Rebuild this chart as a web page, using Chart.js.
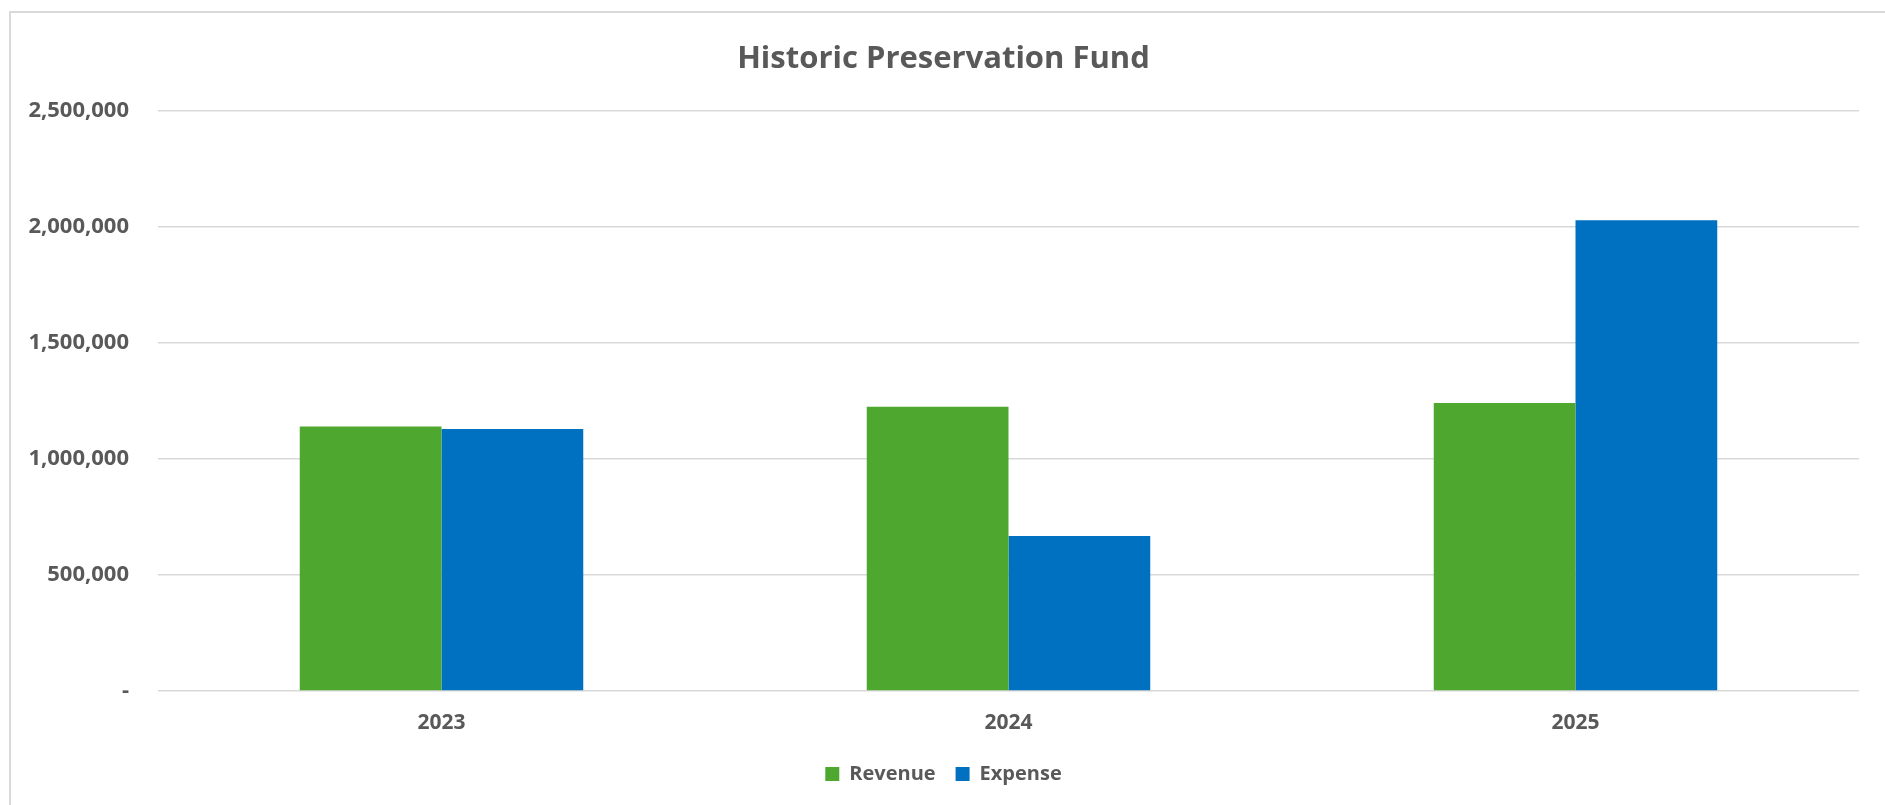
<!DOCTYPE html>
<html>
<head>
<meta charset="utf-8">
<title>Historic Preservation Fund</title>
<script src="https://cdn.jsdelivr.net/npm/chart.js@4"></script>
<style>
  html, body { margin: 0; padding: 0; background: #fff; overflow: hidden; }
  #frame {
    position: absolute; left: 9px; top: 11px;
    width: 2000px; height: 2000px;
    border-left: 2px solid #d9d9d9; border-top: 2px solid #d9d9d9;
  }
  #chart1 { position: absolute; left: 0; top: 0; }
</style>
</head>
<body>
<div id="frame"></div>
<canvas id="chart1" width="1885" height="805"></canvas>
<script>
// Fund totals per fiscal year
const years = ["2023", "2024", "2025"];
const revenue = [1141000, 1226000, 1242000];
const expense = [1130000, 668000, 2030000];
const yTicks = [0, 500000, 1000000, 1500000, 2000000, 2500000];

const textColor = "#595959";
const gridColor = "#d9d9d9";
const fmt = new Intl.NumberFormat("en-US");

Chart.defaults.font.family = "'Open Sans', sans-serif";
Chart.defaults.font.weight = "bold";
Chart.defaults.color = textColor;

const ctx = document.getElementById("chart1").getContext("2d");
window.chart = new Chart(ctx, {
  type: "bar",
  data: {
    labels: years,
    datasets: [
      { label: "Revenue", data: revenue, backgroundColor: "#4ea72e" },
      { label: "Expense", data: expense, backgroundColor: "#0070c0" }
    ]
  },
  options: {
    responsive: false,
    animation: false,
    devicePixelRatio: 1,
    layout: { padding: { left: 28, right: 26, top: 0, bottom: 11 } },
    datasets: { bar: { categoryPercentage: 0.5, barPercentage: 1.0 } },
    plugins: {
      title: {
        display: true,
        text: "Historic Preservation Fund",
        color: textColor,
        font: { size: 31, weight: "bold" },
        padding: { top: 41, bottom: 33 }
      },
      legend: {
        position: "bottom",
        labels: {
          boxWidth: 14, boxHeight: 14, padding: 20,
          font: { size: 20, weight: "bold" },
          color: textColor
        }
      },
      tooltip: { enabled: false }
    },
    scales: {
      x: {
        grid: { display: false, drawTicks: false },
        border: { display: false },
        ticks: { padding: 19, font: { size: 21, weight: "bold" } },
        afterFit: (s) => { s.height = 53; }
      },
      y: {
        min: 0,
        max: 2500000,
        afterBuildTicks: (s) => { s.ticks = yTicks.map(v => ({ value: v })); },
        grid: { color: gridColor, lineWidth: 1.5, drawTicks: false },
        border: { display: false },
        ticks: {
          padding: 29,
          font: { size: 22, weight: "bold" },
          callback: (v) => v === 0 ? "-" : fmt.format(v)
        },
        afterFit: (s) => { s.width = 130; }
      }
    }
  }
});
</script>
</body>
</html>
